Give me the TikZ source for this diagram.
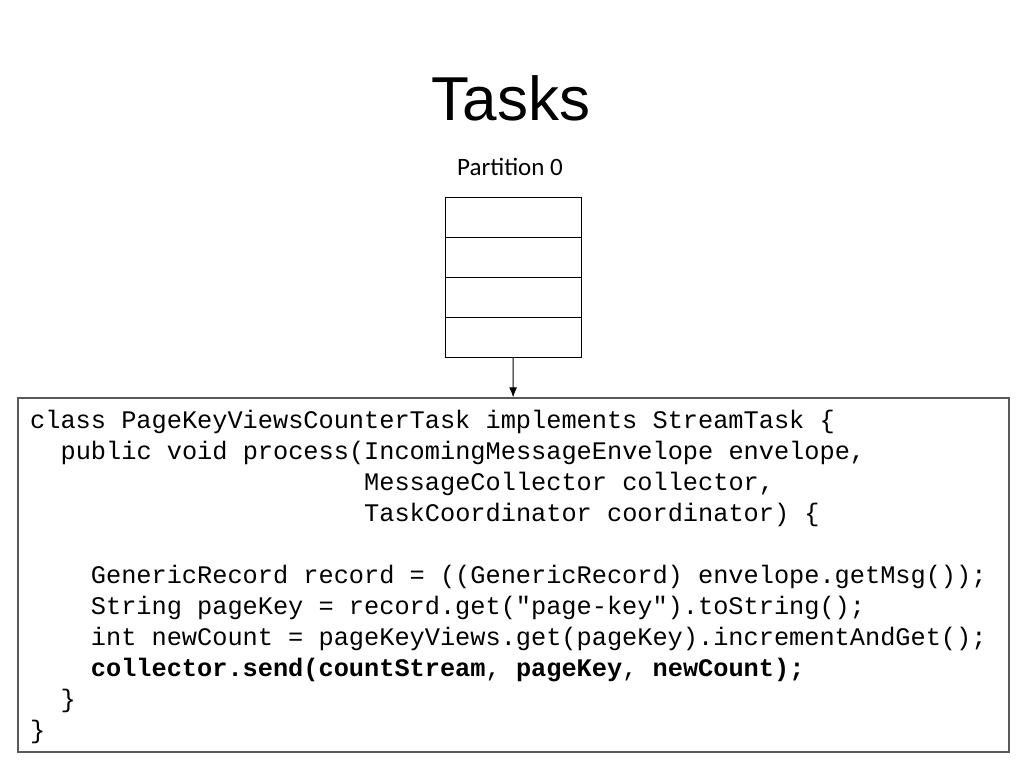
\documentclass[tikz,border=0pt]{standalone}
\usepackage{fontspec}
\setmainfont{Liberation Sans}
\setmonofont{Liberation Mono}
\newfontfamily\calibrifont{Carlito}
\usetikzlibrary{positioning}
\usetikzlibrary{arrows.meta}
\tikzset{
    cell/.style = {rectangle, draw=black, line width=1pt, minimum width=136pt, minimum height=40pt, inner sep=0pt, outer sep=0pt},
    codebox/.style = {rectangle, draw=black!65, line width=1.3pt, minimum width=991pt, minimum height=354pt, inner sep=0pt},
    codeline/.style = {anchor=base west, inner sep=0pt, font=\ttfamily\fontsize{25.3}{31}\selectfont},
    edgen/.style = {-{Latex[length=10pt,width=8pt]}, line width=1pt}
}
\begin{document}
\begin{tikzpicture}[x=1pt,y=-1pt]
  \useasboundingbox (0,0) rectangle (1024,768);
  \node[anchor=base, font=\fontsize{62}{70}\selectfont] (title) at (511,120) {Tasks};
  \node[anchor=base, font=\calibrifont\fontsize{25}{30}\selectfont] (part) at (510,175) {Partition 0};

  \node[cell] (c1) at (513,217) {};
  \node[cell, below=0pt of c1] (c2) {};
  \node[cell, below=0pt of c2] (c3) {};
  \node[cell, below=0pt of c3] (c4) {};

  \node[codebox] (code) at (513.5,575) {};

\node[codeline] (l1) at (30.0,428) {class PageKeyViewsCounterTask implements StreamTask \{};
\node[codeline] (l2) at (60.4,459) {public void process(IncomingMessageEnvelope envelope,};
\node[codeline] (l3) at (364.0,490) {MessageCollector collector,};
\node[codeline] (l4) at (364.0,521) {TaskCoordinator coordinator) \{};
\node[codeline] (l6) at (90.7,583) {GenericRecord record = ((GenericRecord) envelope.getMsg());};
\node[codeline] (l7) at (90.7,614) {String pageKey = record.get("page-key").toString();};
\node[codeline] (l8) at (90.7,645) {int newCount = pageKeyViews.get(pageKey).incrementAndGet();};
\node[codeline] (l9) at (90.7,676) {\textbf{collector.send(countStream}, \textbf{pageKey}, \textbf{newCount);}};
\node[codeline] (l10) at (60.4,707) {\}};
\node[codeline] (l11) at (30.0,738) {\}};

  \draw[edgen] (c4) -- (code);
\end{tikzpicture}
\end{document}
